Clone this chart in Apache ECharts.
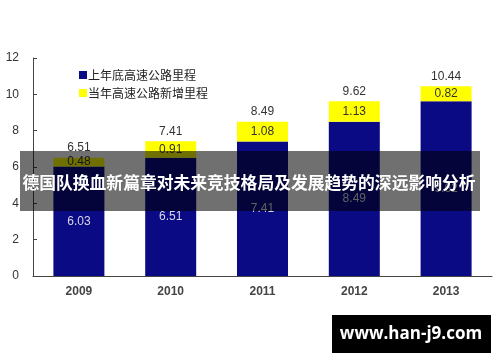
<!DOCTYPE html>
<html><head><meta charset="utf-8">
<script src="https://cdn.jsdelivr.net/npm/echarts@6/dist/echarts.min.js"></script>
<style>html,body{margin:0;padding:0;background:#fff}#c{width:500px;height:362px}</style>
</head><body><div id="c"></div>
<script>
var categories = ['2009','2010','2011','2012','2013'];
var baseLength = [6.03, 6.51, 7.41, 8.49, 9.62];
var newLength = [0.48, 0.91, 1.08, 1.13, 0.82];
var totalLength = [6.51, 7.41, 8.49, 9.62, 10.44];
var yTicks = [0, 2, 4, 6, 8, 10, 12];
var seriesNames = ['上年底高速公路里程', '当年高速公路新增里程'];
var bannerText = '德国队换血新篇章对未来竞技格局及发展趋势的深远影响分析';
var watermark = 'www.han-j9.com';

var chart = echarts.init(document.getElementById('c'), null, {renderer:'canvas'});
var font = '"Liberation Sans", Arial, sans-serif';
chart.setOption({
  animation:false,
  textStyle:{fontFamily:font},
  grid:{left:33, right:8, top:58, bottom:86},
  legend:{
    data:seriesNames, orient:'vertical', left:74, top:64, itemWidth:8, itemHeight:8, itemGap:6,
    icon:'rect',
    textStyle:{fontSize:12, color:'#222', fontFamily:'"Noto Sans CJK SC", sans-serif', padding:[0,0,0,-4]}
  },
  xAxis:{
    type:'category', data:categories,
    axisLine:{lineStyle:{color:'#444', width:1}},
    axisTick:{inside:true, length:4, lineStyle:{color:'#444'}},
    axisLabel:{fontSize:12, color:'#444', fontWeight:'bold', margin:10}
  },
  yAxis:{
    type:'value', min:yTicks[0], max:yTicks[yTicks.length-1], interval:2,
    splitLine:{show:false},
    axisLine:{show:true, lineStyle:{color:'#444', width:1}},
    axisTick:{show:true, inside:true, length:4, lineStyle:{color:'#444'}},
    axisLabel:{fontSize:12, color:'#333', margin:14}
  },
  series:[
    {name:seriesNames[0], type:'bar', stack:'a', data:baseLength, barWidth:51,
     itemStyle:{color:'#0a0a85'},
     label:{show:true, position:'inside', color:'#d8d8e8', fontSize:12}},
    {name:seriesNames[1], type:'bar', stack:'a', data:newLength, barWidth:51,
     itemStyle:{color:'#ffff00'},
     label:{show:true, position:'inside', color:'#333', fontSize:12}},
    {name:'total', type:'bar', stack:'a', data:totalLength.map(function(){return 0;}), barWidth:51,
     itemStyle:{color:'transparent'},
     label:{show:true, position:'top', distance:4, color:'#333', fontSize:12,
       formatter:function(p){return totalLength[p.dataIndex].toFixed(2);}}}
  ],
  graphic:[
    {type:'rect', shape:{x:20, y:151, width:460, height:60}, style:{fill:'rgba(0,0,0,0.56)'}, z:100},
    {type:'text', x:249, y:183, z:101, style:{text:bannerText, fill:'#fff', fontSize:16.8, fontWeight:'bold',
      fontFamily:'"Noto Sans CJK SC", sans-serif', textAlign:'center', textVerticalAlign:'middle'}},
    {type:'rect', shape:{x:332, y:315, width:159, height:38}, style:{fill:'#000'}, z:100},
    {type:'text', x:411, y:334, z:101, style:{text:watermark, fill:'#fff', fontSize:17, fontWeight:'bold',
      fontFamily:'"Open Sans", "DejaVu Sans", sans-serif', textAlign:'center', textVerticalAlign:'middle'}}
  ]
});
</script></body></html>
